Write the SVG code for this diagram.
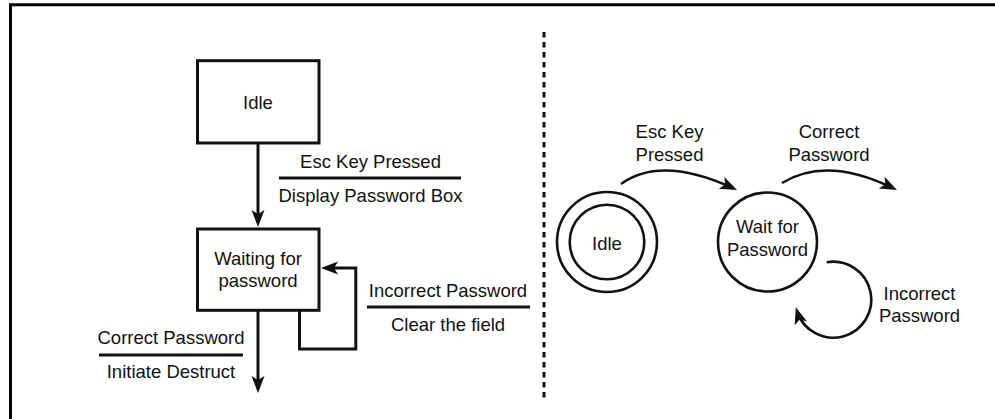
<svg xmlns="http://www.w3.org/2000/svg" width="995" height="419" viewBox="0 0 995 419">
<style>
text{font-family:"Liberation Sans",Arial,sans-serif;font-size:18.5px;fill:#111;text-anchor:middle}
.box{fill:#fff;stroke:#111;stroke-width:3}
.circ{fill:none;stroke:#111;stroke-width:2.6}
.conn{fill:none;stroke:#111;stroke-width:3}
.arc{fill:none;stroke:#111;stroke-width:2.6}
.bar{stroke:#111;stroke-width:3}
</style>
<defs>
<marker id="ah" markerUnits="userSpaceOnUse" markerWidth="20" markerHeight="20" refX="0" refY="0" orient="auto" style="overflow:visible">
<path d="M4,0 L-13,-6.5 L-9,0 L-13,6.5 Z" fill="#111"/>
</marker>
</defs>
<rect width="995" height="419" fill="#fff"/>
<path d="M10.5,419 V4.7 H995" fill="none" stroke="#000" stroke-width="3"/>
<line x1="544" y1="32" x2="544" y2="398" stroke="#111" stroke-width="3" stroke-dasharray="5.5 4.5"/>

<g id="connectors">
<path class="conn" d="M258,144 V223" marker-end="url(#ah)"/>
<path class="conn" d="M258,311 V389" marker-end="url(#ah)"/>
<path class="conn" d="M299.5,311 V349 H355.8 V268 H325" marker-end="url(#ah)"/>
<path class="arc" d="M621,184 Q661,155 733.4,188.3" marker-end="url(#ah)"/>
<path class="arc" d="M782,183 Q826.5,155.5 893.4,188.3" marker-end="url(#ah)"/>
<path class="arc" d="M826.7,262.3 A38,38 0 1 1 797,311" marker-end="url(#ah)"/>
</g>

<g id="label-esc-left">
<text x="370.5" y="168">Esc Key Pressed</text>
<line class="bar" x1="279" y1="178" x2="461" y2="178"/>
<text x="370.5" y="202">Display Password Box</text>
</g>
<g id="label-incorrect-left">
<text x="448" y="297">Incorrect Password</text>
<line class="bar" x1="367" y1="307" x2="530" y2="307"/>
<text x="448" y="331">Clear the field</text>
</g>
<g id="label-correct-left">
<text x="171" y="344">Correct Password</text>
<line class="bar" x1="99" y1="355" x2="243" y2="355"/>
<text x="171" y="378">Initiate Destruct</text>
</g>

<g id="node-idle-box">
<rect class="box" x="197.5" y="60.7" width="121.5" height="82.3"/>
<text x="258" y="109">Idle</text>
</g>
<g id="node-waiting-box">
<rect class="box" x="197.5" y="229" width="121.5" height="81.3"/>
<text x="258" y="265">Waiting for</text>
<text x="258" y="287">password</text>
</g>

<g id="node-idle-circle">
<circle class="circ" cx="607" cy="242" r="50"/>
<circle class="circ" cx="607" cy="242" r="37.3"/>
<text x="607" y="250">Idle</text>
</g>
<g id="node-wait-circle">
<circle class="circ" cx="767.5" cy="242" r="49.5"/>
<text x="767.5" y="233">Wait for</text>
<text x="767.5" y="256">Password</text>
</g>

<g id="label-esc-right">
<text x="669.5" y="138">Esc Key</text>
<text x="669.5" y="161">Pressed</text>
</g>
<g id="label-correct-right">
<text x="829" y="138">Correct</text>
<text x="829" y="161">Password</text>
</g>
<g id="label-incorrect-right">
<text x="919.5" y="300">Incorrect</text>
<text x="919.5" y="322">Password</text>
</g>
</svg>
